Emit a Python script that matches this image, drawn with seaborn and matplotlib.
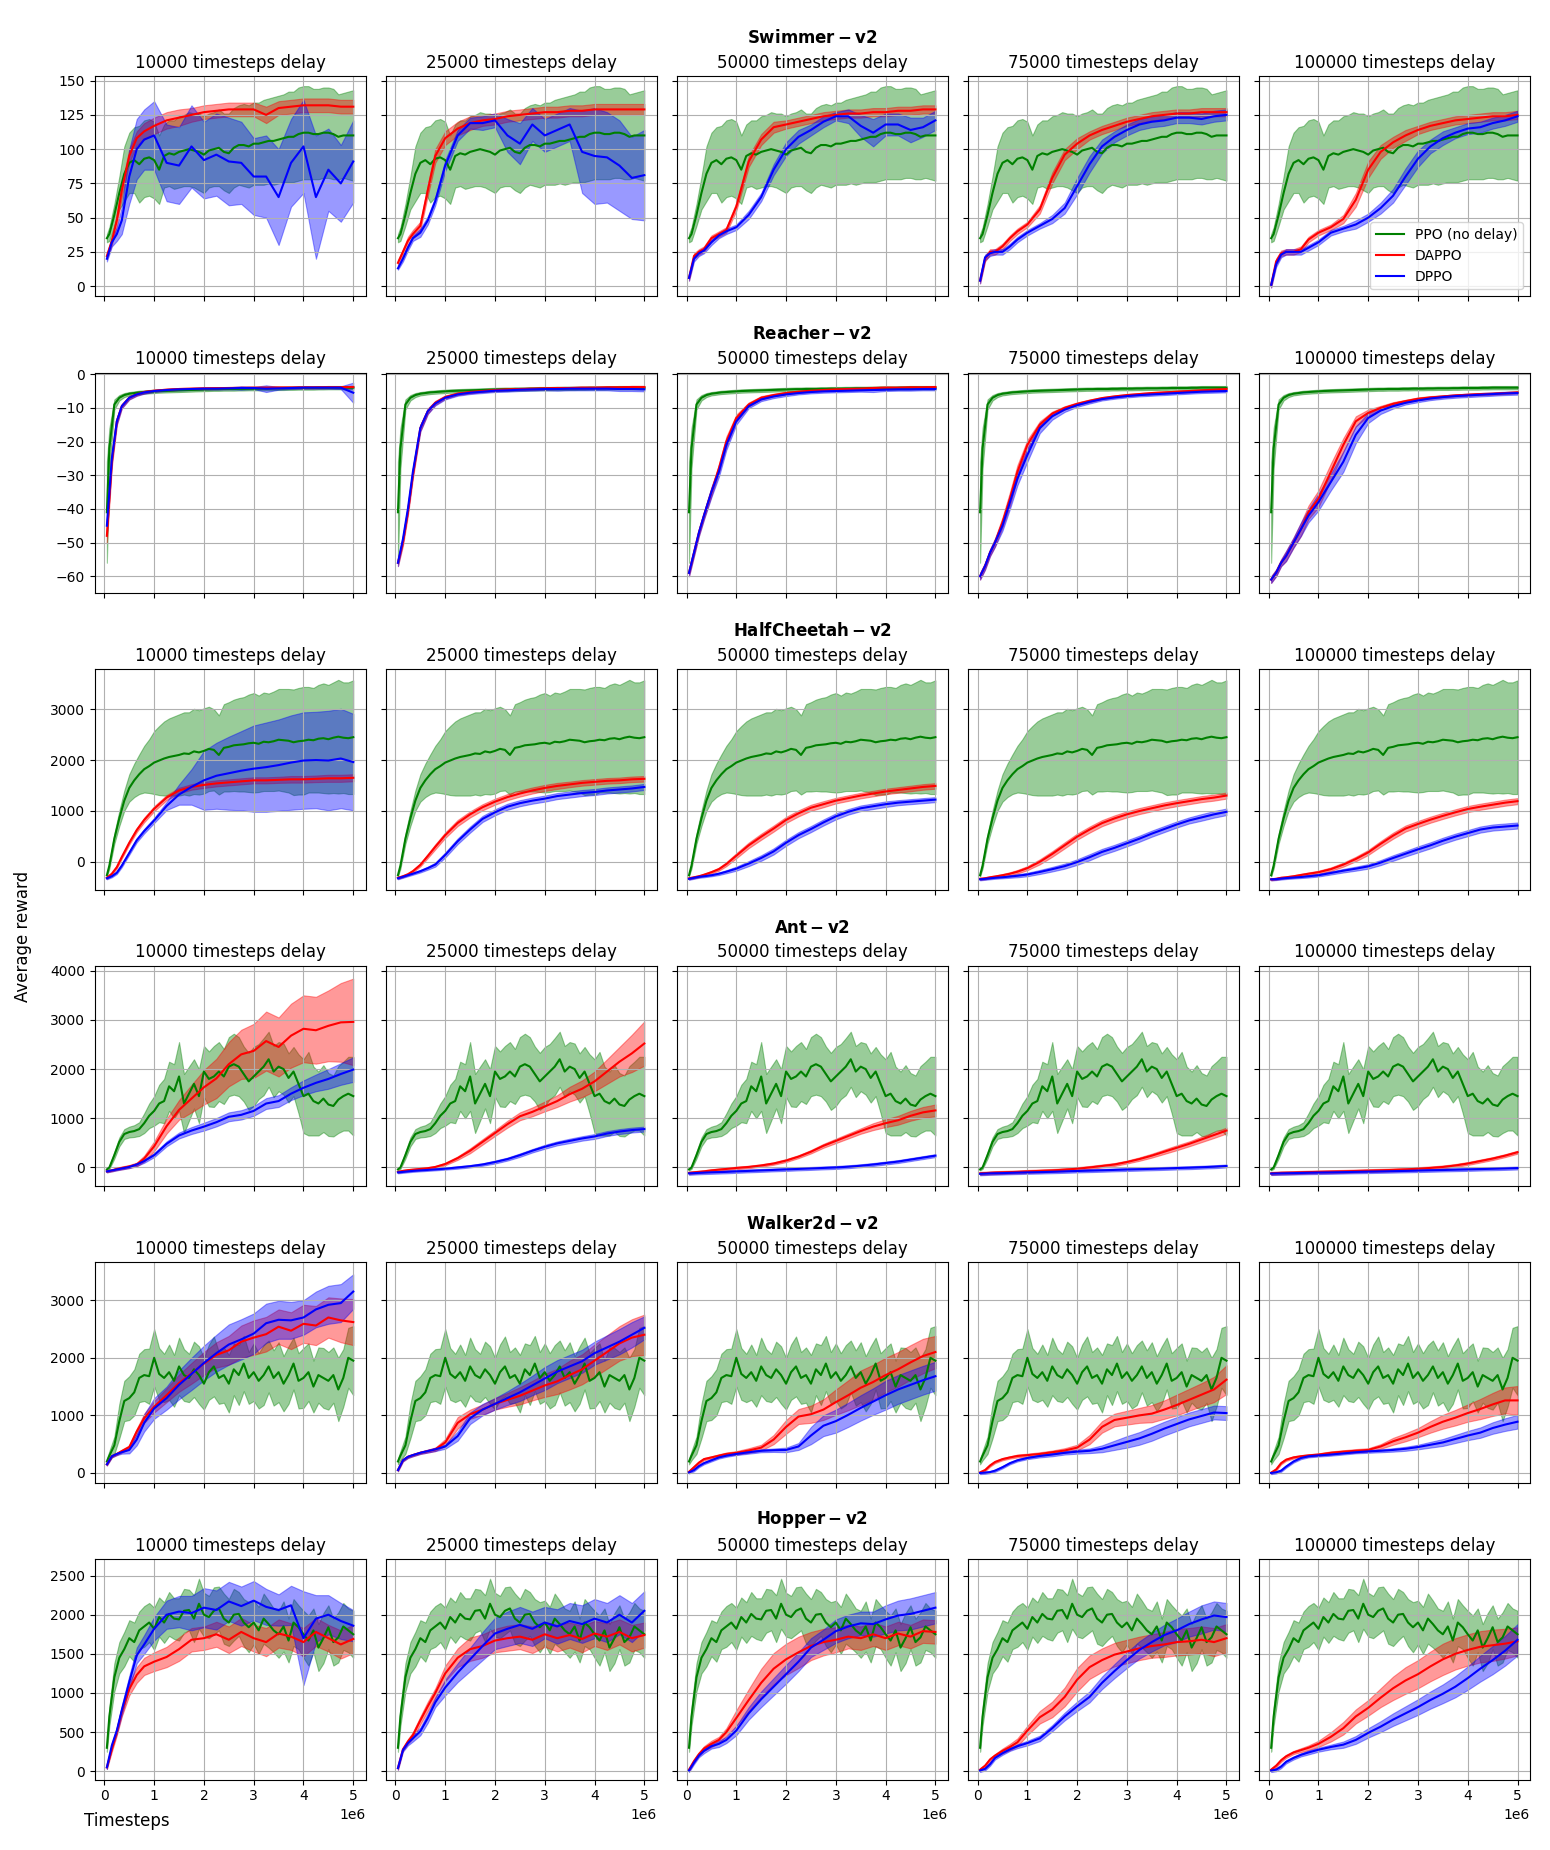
import numpy as np
import pandas as pd
import matplotlib
matplotlib.use("Agg")
import matplotlib.pyplot as plt
import seaborn as sns
from matplotlib.ticker import MultipleLocator

DELAYS = [10000, 25000, 50000, 75000, 100000]
ENVS = ["Swimmer", "Reacher", "HalfCheetah", "Ant", "Walker2d", "Hopper"]

# sample positions in millions of timesteps
STEPS_PPO = [0.05, 0.1, 0.2, 0.3, 0.4, 0.5, 0.6, 0.7, 0.8, 0.9,
             1.0, 1.1, 1.2, 1.3, 1.4, 1.5, 1.6, 1.7, 1.8, 1.9,
             2.0, 2.1, 2.2, 2.3, 2.4, 2.5, 2.6, 2.7, 2.8, 2.9,
             3.0, 3.1, 3.2, 3.3, 3.4, 3.5, 3.6, 3.7, 3.8, 3.9,
             4.0, 4.1, 4.2, 4.3, 4.4, 4.5, 4.6, 4.7, 4.8, 4.9, 5.0]
STEPS = [0.05, 0.15, 0.25, 0.35, 0.5, 0.65, 0.8, 1.0, 1.25, 1.5, 1.75, 2.0,
         2.25, 2.5, 2.75, 3.0, 3.25, 3.5, 3.75, 4.0, 4.25, 4.5, 4.75, 5.0]

# ---------------- Swimmer ----------------
SWIMMER_PPO = [35, 38, 52, 68, 82, 90, 92, 89, 93, 94,
               92, 85, 95, 97, 96, 98, 99, 100, 99, 98,
               96, 99, 100, 101, 98, 97, 101, 103, 103, 102,
               104, 104, 105, 106, 106, 107, 108, 109, 109, 111,
               112, 112, 111, 111, 112, 112, 111, 109, 110, 110, 110]
SWIMMER_PPO_SD = [3, 5, 8, 12, 20, 22, 24, 28, 28, 28,
                  28, 25, 23, 24, 25, 26, 26, 27, 27, 28,
                  28, 27, 27, 28, 28, 29, 29, 29, 30, 30,
                  30, 30, 31, 31, 32, 32, 32, 33, 33, 34,
                  34, 34, 33, 33, 33, 33, 33, 31, 31, 32, 33]
SWIMMER_DAPPO = [
    [22, 33, 48, 70, 95, 108, 113, 117, 121, 123, 125, 127, 128, 129, 129, 129, 125, 130, 131, 132, 132, 132, 131, 131],
    [17, 25, 33, 38, 44, 70, 95, 108, 115, 119, 121, 122, 124, 125, 126, 127, 127, 128, 128, 129, 129, 129, 129, 129],
    [6, 22, 25, 27, 35, 38, 41, 58, 91, 107, 116, 118, 120, 122, 124, 125, 126, 126, 127, 127, 128, 128, 129, 129],
    [4, 20, 25, 25, 29, 35, 40, 45, 56, 79, 96, 104, 110, 114, 117, 120, 122, 124, 125, 126, 126, 127, 127, 127],
    [1, 18, 24, 25, 25, 27, 34, 39, 43, 49, 63, 85, 98, 105, 110, 114, 117, 119, 121, 122, 123, 124, 124, 125],
]
SWIMMER_DAPPO_SD = [
    [2, 3, 4, 5, 5, 5, 6, 6, 6, 6, 5, 5, 5, 5, 5, 5, 6, 5, 5, 5, 5, 5, 5, 5],
    [2, 2, 3, 3, 3, 4, 5, 5, 5, 5, 4, 4, 4, 4, 4, 4, 4, 4, 4, 4, 4, 4, 4, 4],
    [2, 2, 2, 2, 2, 2, 2, 3, 4, 4, 4, 3, 3, 3, 3, 3, 3, 3, 3, 3, 3, 3, 3, 3],
    [2, 2, 2, 2, 2, 2, 2, 2, 3, 4, 4, 4, 3, 3, 3, 3, 3, 3, 3, 3, 3, 3, 3, 3],
    [2, 2, 2, 2, 2, 2, 2, 2, 2, 3, 5, 6, 5, 4, 4, 3, 3, 3, 3, 3, 3, 3, 3, 3],
]
SWIMMER_DPPO = [
    [20, 32, 38, 48, 80, 100, 107, 110, 90, 88, 102, 92, 96, 91, 90, 80, 80, 65, 90, 102, 65, 85, 75, 91],
    [13, 20, 28, 35, 39, 48, 62, 88, 110, 119, 119, 121, 110, 104, 118, 110, 114, 118, 98, 95, 94, 88, 79, 81],
    [6, 20, 24, 26, 32, 37, 40, 43, 52, 65, 85, 100, 109, 114, 120, 124, 124, 117, 112, 118, 118, 114, 116, 121],
    [4, 21, 24, 25, 25, 29, 34, 39, 44, 49, 57, 73, 89, 102, 109, 114, 118, 120, 121, 123, 123, 122, 124, 125],
    [1, 16, 23, 25, 25, 25, 28, 32, 39, 42, 45, 50, 57, 66, 80, 93, 102, 108, 112, 115, 116, 119, 121, 124],
]
SWIMMER_DPPO_SD = [
    [2, 3, 5, 10, 20, 22, 22, 25, 28, 28, 30, 28, 30, 32, 30, 28, 30, 35, 32, 34, 45, 30, 28, 30],
    [1, 2, 2, 2, 3, 3, 3, 4, 4, 4, 5, 5, 12, 15, 12, 12, 12, 12, 30, 35, 33, 33, 30, 33],
    [2, 2, 2, 2, 2, 2, 2, 2, 3, 3, 4, 5, 5, 4, 4, 3, 5, 8, 10, 8, 8, 9, 7, 7],
    [2, 2, 2, 2, 2, 2, 2, 2, 2, 3, 4, 6, 6, 5, 4, 4, 4, 4, 4, 4, 4, 4, 4, 4],
    [2, 2, 2, 2, 2, 2, 2, 2, 2, 2, 3, 3, 4, 5, 6, 6, 5, 5, 4, 4, 4, 4, 4, 4],
]

# ---------------- Reacher ----------------
REACHER_PPO = [-41, -22, -9, -7, -6.2, -5.8, -5.6, -5.4, -5.3, -5.2,
               -5.1, -5.0, -4.95, -4.9, -4.85, -4.8, -4.75, -4.7, -4.65, -4.6,
               -4.55, -4.5, -4.45, -4.45, -4.4, -4.4, -4.4, -4.35, -4.35, -4.3,
               -4.3, -4.3, -4.25, -4.25, -4.2, -4.2, -4.2, -4.15, -4.15, -4.1,
               -4.1, -4.1, -4.1, -4.05, -4.05, -4.0, -4.0, -4.0, -4.0, -4.0, -4.0]
REACHER_PPO_SD = [15, 6, 1.5, 0.8, 0.6, 0.5, 0.5, 0.5, 0.5, 0.5,
                  0.5, 0.5, 0.5, 0.5, 0.5, 0.5, 0.5, 0.5, 0.5, 0.5,
                  0.5, 0.5, 0.5, 0.5, 0.5, 0.5, 0.5, 0.5, 0.5, 0.5,
                  0.5, 0.5, 0.5, 0.5, 0.5, 0.5, 0.5, 0.5, 0.5, 0.5,
                  0.5, 0.5, 0.5, 0.5, 0.5, 0.5, 0.5, 0.5, 0.5, 0.5, 0.5]
REACHER_DAPPO = [
    [-48, -26, -14, -9.5, -7, -6, -5.3, -4.9, -4.6, -4.4, -4.3, -4.2, -4.15, -4.1, -4.05, -4.0, -4.0, -3.95, -3.95, -3.9, -3.9, -3.85, -3.85, -3.8],
    [-56, -50, -41, -30, -16, -11, -8.5, -6.8, -5.8, -5.3, -5.0, -4.7, -4.5, -4.4, -4.3, -4.2, -4.1, -4.1, -4.0, -4.0, -3.9, -3.9, -3.8, -3.8],
    [-59, -53, -47, -42, -35, -28, -20, -13, -9, -7, -6.2, -5.6, -5.2, -4.9, -4.7, -4.5, -4.4, -4.3, -4.1, -4.0, -4.0, -3.9, -3.9, -3.8],
    [-60, -57, -53, -50, -44, -37, -29, -21, -15, -11.7, -10, -8.8, -7.9, -7.1, -6.6, -6.2, -5.9, -5.6, -5.4, -5.2, -5.0, -4.8, -4.6, -4.4],
    [-61, -59, -56, -54, -50, -46, -41, -37, -29, -21, -14, -11.5, -10, -8.8, -8.0, -7.3, -6.9, -6.6, -6.3, -6.1, -5.9, -5.8, -5.6, -5.4],
]
REACHER_DAPPO_SD = [
    [2, 1.5, 1, 0.6, 0.5, 0.4, 0.4, 0.3, 0.3, 0.3, 0.3, 0.3, 0.3, 0.3, 0.3, 0.3, 0.3, 0.3, 0.3, 0.3, 0.3, 0.3, 0.3, 0.3],
    [1, 1, 1, 1, 1, 0.8, 0.6, 0.5, 0.4, 0.4, 0.3, 0.3, 0.3, 0.3, 0.3, 0.3, 0.3, 0.3, 0.3, 0.3, 0.3, 0.3, 0.3, 0.3],
    [1, 1, 1, 1, 1.2, 1.2, 1.5, 1.0, 0.6, 0.5, 0.4, 0.4, 0.3, 0.3, 0.3, 0.3, 0.3, 0.3, 0.3, 0.3, 0.3, 0.3, 0.3, 0.3],
    [1, 1, 1, 1.2, 1.5, 2, 2, 1.5, 1, 0.6, 0.5, 0.4, 0.4, 0.3, 0.3, 0.3, 0.3, 0.3, 0.3, 0.3, 0.3, 0.3, 0.3, 0.3],
    [1, 1, 1, 1.5, 1.5, 2, 2, 2.5, 2.5, 2, 1.5, 1, 0.6, 0.5, 0.4, 0.4, 0.4, 0.3, 0.3, 0.3, 0.3, 0.3, 0.3, 0.3],
]
REACHER_DPPO = [
    [-45, -25, -14, -9.5, -7, -6, -5.4, -5.0, -4.7, -4.5, -4.4, -4.3, -4.3, -4.2, -4.1, -4.1, -4.3, -4.2, -4.1, -4.0, -4.0, -4.0, -4.0, -5.5],
    [-56, -49, -40, -29, -16, -11, -8.7, -7.0, -6.0, -5.5, -5.2, -4.9, -4.8, -4.6, -4.5, -4.4, -4.4, -4.3, -4.3, -4.3, -4.3, -4.4, -4.4, -4.5],
    [-59, -53, -47, -42, -35, -29, -21, -14, -9.5, -7.5, -6.6, -6.0, -5.6, -5.3, -5.1, -5.0, -4.9, -4.8, -4.7, -4.6, -4.5, -4.5, -4.4, -4.4],
    [-60, -57, -53, -50, -45, -38, -31, -24, -16, -12.5, -10.5, -9.2, -8.2, -7.4, -6.9, -6.5, -6.2, -6.0, -5.8, -5.6, -5.4, -5.2, -5.1, -5.0],
    [-61, -59, -56, -54, -50, -46, -42, -38, -32, -26, -18, -13, -10.8, -9.5, -8.5, -7.8, -7.2, -6.8, -6.5, -6.3, -6.1, -5.9, -5.7, -5.6],
]
REACHER_DPPO_SD = [
    [2, 1.5, 1, 0.6, 0.5, 0.4, 0.4, 0.3, 0.3, 0.3, 0.3, 0.3, 0.3, 0.3, 0.5, 0.3, 1.0, 0.4, 0.3, 0.3, 0.3, 0.3, 0.4, 3.0],
    [1, 1, 1, 1, 1, 0.8, 0.6, 0.5, 0.4, 0.4, 0.4, 0.4, 0.4, 0.4, 0.4, 0.4, 0.5, 0.5, 0.5, 0.5, 0.5, 0.6, 0.6, 0.6],
    [1, 1, 1, 1.2, 1.5, 1.5, 1.5, 1.0, 0.6, 0.5, 0.5, 0.5, 0.4, 0.4, 0.4, 0.4, 0.4, 0.4, 0.6, 0.4, 0.4, 0.4, 0.4, 0.4],
    [1, 1, 1, 1.2, 1.5, 2, 2, 2, 1.5, 1, 0.7, 0.5, 0.5, 0.4, 0.4, 0.4, 0.4, 0.4, 0.4, 0.4, 0.4, 0.4, 0.4, 0.4],
    [1, 1, 1, 1.5, 1.5, 2, 2, 2.5, 2.5, 3, 2.5, 1.5, 1, 0.7, 0.5, 0.5, 0.5, 0.5, 0.5, 0.5, 0.5, 0.5, 0.5, 0.5],
]

# ---------------- HalfCheetah ----------------
CHEETAH_PPO = [-270, -80, 450, 850, 1200, 1450, 1600, 1720, 1820, 1880,
               1950, 1990, 2030, 2060, 2080, 2100, 2130, 2120, 2170, 2150,
               2180, 2220, 2200, 2100, 2240, 2260, 2290, 2300, 2310, 2330,
               2340, 2320, 2360, 2350, 2370, 2400, 2390, 2380, 2350, 2370,
               2380, 2400, 2390, 2420, 2430, 2410, 2440, 2460, 2440, 2430, 2450]
CHEETAH_PPO_SD = [20, 60, 100, 150, 200, 270, 330, 390, 460, 530,
                  620, 680, 730, 760, 780, 800, 810, 820, 840, 830,
                  840, 830, 800, 780, 860, 880, 900, 920, 930, 960,
                  980, 950, 970, 960, 980, 1000, 1010, 1020, 1040, 1050,
                  1060, 1040, 1030, 1060, 1080, 1070, 1090, 1120, 1090, 1100, 1120]
CHEETAH_DAPPO = [
    [-320, -240, -110, 90, 370, 620, 820, 1040, 1260, 1400, 1470, 1510, 1540, 1560, 1580, 1600, 1600, 1610, 1620, 1620, 1630, 1640, 1640, 1650],
    [-320, -290, -250, -190, -65, 110, 290, 520, 760, 930, 1070, 1180, 1270, 1340, 1400, 1450, 1490, 1520, 1550, 1570, 1590, 1600, 1620, 1630],
    [-330, -310, -290, -260, -210, -150, -50, 115, 320, 490, 650, 820, 950, 1060, 1130, 1200, 1250, 1300, 1340, 1380, 1410, 1440, 1470, 1490],
    [-340, -330, -310, -295, -270, -240, -200, -130, -5, 150, 320, 490, 630, 757, 850, 930, 995, 1050, 1105, 1150, 1190, 1230, 1260, 1300],
    [-350, -340, -320, -310, -290, -265, -240, -210, -150, -60, 50, 180, 350, 510, 650, 740, 825, 900, 970, 1035, 1080, 1120, 1160, 1190],
]
CHEETAH_DAPPO_SD = [
    [20, 20, 25, 30, 35, 40, 45, 50, 50, 55, 55, 60, 60, 60, 60, 60, 60, 60, 65, 65, 65, 70, 70, 70],
    [20, 20, 20, 25, 30, 40, 50, 55, 60, 60, 60, 60, 60, 60, 60, 60, 60, 55, 55, 55, 55, 55, 55, 55],
    [20, 20, 20, 20, 25, 30, 40, 50, 55, 60, 60, 60, 60, 60, 60, 55, 55, 55, 55, 55, 55, 55, 55, 55],
    [20, 20, 20, 20, 25, 30, 35, 40, 50, 55, 60, 60, 60, 60, 60, 60, 60, 60, 60, 60, 60, 60, 60, 60],
    [20, 20, 20, 20, 20, 25, 25, 30, 35, 40, 45, 50, 55, 60, 60, 60, 60, 60, 60, 60, 60, 60, 60, 60],
]
CHEETAH_DPPO = [
    [-330, -290, -220, -80, 170, 420, 600, 810, 1095, 1320, 1470, 1600, 1690, 1740, 1790, 1830, 1860, 1900, 1950, 1990, 2000, 1990, 2030, 1960],
    [-330, -300, -270, -240, -190, -130, -60, 130, 400, 630, 840, 970, 1080, 1150, 1200, 1240, 1290, 1320, 1350, 1370, 1400, 1420, 1440, 1470],
    [-340, -320, -300, -290, -270, -240, -200, -140, -40, 70, 200, 370, 520, 640, 770, 890, 980, 1050, 1090, 1130, 1160, 1180, 1200, 1220],
    [-350, -340, -330, -320, -310, -295, -280, -255, -205, -150, -90, -10, 85, 190, 270, 360, 450, 550, 640, 730, 810, 870, 930, 980],
    [-350, -345, -335, -325, -315, -305, -290, -270, -225, -180, -140, -95, -20, 70, 155, 240, 320, 410, 490, 560, 630, 670, 690, 710],
]
CHEETAH_DPPO_SD = [
    [20, 20, 25, 30, 35, 40, 45, 50, 80, 200, 350, 580, 650, 720, 780, 850, 880, 900, 930, 950, 950, 980, 980, 950],
    [20, 20, 20, 20, 25, 30, 40, 50, 55, 60, 60, 60, 60, 60, 60, 60, 60, 60, 60, 60, 60, 60, 60, 60],
    [20, 20, 20, 20, 20, 25, 30, 40, 50, 55, 60, 60, 60, 60, 60, 60, 55, 55, 55, 55, 50, 50, 50, 50],
    [20, 20, 20, 20, 20, 25, 30, 35, 40, 45, 50, 55, 60, 60, 60, 60, 60, 60, 60, 60, 60, 65, 65, 65],
    [20, 20, 20, 20, 20, 20, 25, 25, 30, 35, 40, 45, 50, 55, 55, 60, 60, 60, 60, 60, 60, 60, 60, 60],
]

# ---------------- Ant ----------------
ANT_PPO = [-40, 0, 250, 520, 680, 720, 740, 780, 900, 1050,
           1150, 1300, 1350, 1650, 1550, 1850, 1300, 1500, 1700, 1450,
           1950, 1800, 1850, 1950, 1850, 2050, 2100, 2050, 1900, 1750,
           1850, 1950, 2050, 2200, 1950, 2050, 2000, 1820, 1950, 1700,
           1450, 1500, 1350, 1300, 1400, 1280, 1250, 1380, 1450, 1500, 1450]
ANT_PPO_SD = [20, 30, 70, 90, 100, 110, 120, 140, 200, 250,
              300, 380, 450, 500, 550, 700, 600, 550, 500, 550,
              520, 560, 620, 600, 560, 600, 620, 600, 560, 580,
              600, 560, 580, 560, 520, 500, 520, 500, 500, 600,
              750, 850, 700, 650, 680, 640, 620, 680, 700, 750, 800]
ANT_DAPPO = [
    [-80, -60, -30, -10, 20, 60, 180, 430, 840, 1170, 1400, 1630, 1810, 2100, 2300, 2370, 2570, 2450, 2680, 2820, 2790, 2880, 2950, 2960],
    [-90, -70, -55, -45, -30, -15, 10, 70, 190, 340, 520, 700, 880, 1040, 1130, 1240, 1350, 1490, 1600, 1750, 1950, 2150, 2320, 2520],
    [-110, -100, -90, -80, -60, -45, -30, -10, 10, 40, 80, 140, 220, 320, 440, 540, 640, 740, 830, 900, 960, 1050, 1120, 1160],
    [-120, -115, -110, -105, -100, -95, -90, -80, -70, -60, -45, -25, 0, 30, 60, 110, 170, 240, 320, 400, 480, 570, 660, 750],
    [-120, -115, -110, -108, -105, -100, -95, -90, -85, -80, -72, -65, -58, -50, -40, -25, -10, 10, 40, 80, 130, 180, 240, 310],
]
ANT_DAPPO_SD = [
    [20, 20, 25, 30, 30, 40, 60, 100, 150, 200, 280, 350, 400, 450, 500, 550, 600, 600, 650, 680, 680, 720, 800, 880],
    [20, 20, 20, 20, 20, 20, 20, 25, 35, 50, 55, 60, 70, 80, 90, 100, 120, 150, 170, 200, 250, 300, 380, 450],
    [25, 25, 25, 25, 25, 25, 25, 25, 25, 25, 25, 30, 30, 35, 40, 45, 50, 55, 70, 80, 90, 100, 110, 120],
    [30, 30, 30, 30, 30, 30, 30, 30, 30, 30, 30, 30, 30, 30, 30, 30, 35, 40, 45, 50, 50, 55, 60, 60],
    [30, 30, 30, 30, 30, 30, 30, 30, 30, 30, 30, 30, 30, 30, 30, 30, 30, 30, 30, 30, 30, 30, 30, 30],
]
ANT_DPPO = [
    [-80, -60, -40, -20, 10, 60, 130, 250, 480, 650, 750, 830, 920, 1030, 1070, 1150, 1300, 1350, 1500, 1620, 1720, 1800, 1900, 1990],
    [-100, -90, -80, -70, -60, -50, -40, -25, 0, 25, 60, 110, 170, 250, 340, 420, 490, 540, 590, 630, 690, 730, 760, 780],
    [-120, -115, -110, -105, -100, -95, -90, -80, -70, -60, -50, -40, -30, -20, -10, 0, 15, 35, 60, 90, 120, 160, 200, 240],
    [-130, -125, -120, -118, -115, -110, -105, -100, -95, -88, -80, -72, -65, -58, -50, -42, -35, -28, -20, -12, -5, 5, 15, 30],
    [-125, -122, -120, -118, -115, -112, -108, -104, -100, -95, -90, -85, -80, -75, -70, -64, -58, -52, -46, -40, -33, -27, -20, -12],
]
ANT_DPPO_SD = [
    [20, 20, 20, 20, 25, 30, 35, 40, 50, 60, 70, 80, 85, 90, 95, 100, 110, 120, 130, 150, 170, 200, 220, 250],
    [20, 20, 20, 20, 20, 20, 20, 20, 25, 25, 25, 30, 30, 35, 35, 40, 40, 45, 45, 50, 50, 50, 50, 50],
    [30, 30, 30, 30, 30, 30, 30, 30, 30, 30, 30, 30, 30, 30, 30, 30, 30, 30, 30, 30, 30, 30, 30, 30],
    [30, 30, 30, 30, 30, 30, 30, 30, 30, 30, 30, 30, 30, 30, 30, 30, 30, 30, 30, 30, 30, 30, 30, 30],
    [30, 30, 30, 30, 30, 30, 30, 30, 30, 30, 30, 30, 30, 30, 30, 30, 30, 30, 30, 30, 30, 30, 30, 30],
]

# ---------------- Walker2d ----------------
WALKER_PPO = [200, 300, 480, 900, 1250, 1300, 1400, 1650, 1700, 1680,
              2000, 1720, 1650, 1750, 1600, 1850, 1700, 1650, 1800, 1700,
              1550, 1750, 1850, 1650, 1700, 1550, 1800, 1700, 1900, 1650,
              1750, 1600, 1700, 1850, 1650, 1750, 1550, 1700, 1900, 1600,
              1650, 1750, 1500, 1700, 1650, 1600, 1700, 1450, 1650, 2000, 1950]
WALKER_PPO_SD = [50, 80, 150, 300, 350, 380, 400, 420, 450, 480,
                 500, 450, 420, 480, 450, 500, 450, 420, 480, 500,
                 450, 480, 520, 450, 480, 500, 450, 520, 480, 450,
                 500, 480, 520, 450, 480, 520, 480, 500, 450, 480,
                 520, 500, 450, 480, 520, 500, 480, 550, 500, 520, 600]
WALKER_DAPPO = [
    [150, 290, 330, 380, 450, 720, 950, 1150, 1350, 1560, 1730, 1900, 2050, 2130, 2280, 2350, 2410, 2540, 2470, 2590, 2560, 2700, 2650, 2620],
    [50, 220, 280, 310, 350, 380, 410, 530, 870, 1020, 1100, 1200, 1270, 1340, 1430, 1520, 1590, 1700, 1800, 1950, 2100, 2250, 2350, 2400],
    [20, 100, 180, 240, 270, 300, 330, 350, 390, 440, 580, 800, 980, 1020, 1100, 1230, 1350, 1480, 1580, 1700, 1800, 1920, 2030, 2100],
    [10, 50, 130, 190, 240, 270, 295, 310, 330, 360, 390, 440, 580, 800, 920, 960, 1000, 1030, 1100, 1180, 1270, 1360, 1450, 1620],
    [5, 60, 170, 230, 270, 290, 305, 320, 350, 370, 385, 400, 460, 550, 620, 700, 800, 890, 960, 1040, 1110, 1190, 1260, 1260],
]
WALKER_DAPPO_SD = [
    [20, 20, 20, 25, 30, 50, 80, 100, 120, 150, 180, 200, 220, 250, 280, 300, 300, 300, 320, 330, 340, 350, 380, 400],
    [20, 20, 20, 20, 20, 25, 30, 60, 100, 80, 90, 100, 120, 150, 170, 200, 220, 250, 260, 280, 290, 300, 320, 350],
    [20, 20, 20, 20, 20, 25, 25, 30, 40, 50, 80, 120, 130, 150, 180, 220, 260, 300, 300, 300, 300, 300, 300, 280],
    [20, 20, 20, 20, 20, 20, 25, 25, 30, 30, 40, 50, 80, 100, 110, 120, 130, 150, 160, 180, 190, 200, 220, 250],
    [20, 20, 20, 20, 20, 20, 20, 20, 25, 25, 30, 30, 40, 60, 70, 80, 100, 120, 135, 150, 175, 200, 225, 250],
]
WALKER_DPPO = [
    [150, 290, 330, 360, 400, 580, 870, 1120, 1300, 1530, 1720, 1910, 2080, 2230, 2320, 2420, 2600, 2660, 2650, 2700, 2840, 2920, 2950, 3150],
    [50, 220, 280, 310, 350, 380, 410, 460, 640, 950, 1100, 1200, 1300, 1400, 1520, 1640, 1760, 1850, 1940, 2080, 2180, 2280, 2400, 2520],
    [10, 50, 120, 170, 220, 270, 300, 330, 360, 385, 395, 400, 460, 650, 820, 900, 1010, 1130, 1240, 1350, 1450, 1530, 1610, 1680],
    [0, 5, 15, 40, 100, 170, 220, 260, 295, 320, 350, 370, 385, 420, 480, 540, 600, 680, 770, 850, 930, 990, 1050, 1040],
    [0, 10, 40, 110, 200, 260, 290, 305, 320, 340, 360, 375, 385, 400, 420, 450, 490, 530, 590, 650, 700, 780, 840, 890],
]
WALKER_DPPO_SD = [
    [20, 20, 20, 25, 60, 100, 150, 180, 200, 250, 280, 300, 320, 350, 350, 350, 340, 330, 320, 300, 310, 330, 330, 300],
    [20, 20, 20, 20, 20, 25, 30, 40, 80, 100, 100, 100, 120, 150, 170, 200, 200, 200, 200, 200, 210, 220, 220, 200],
    [20, 20, 20, 20, 20, 20, 20, 20, 25, 25, 30, 40, 60, 150, 180, 200, 210, 220, 230, 250, 250, 250, 250, 250],
    [20, 20, 20, 20, 20, 20, 20, 20, 25, 30, 30, 35, 40, 60, 80, 100, 110, 120, 120, 120, 120, 120, 120, 120],
    [20, 20, 20, 20, 20, 20, 20, 20, 20, 20, 20, 25, 25, 30, 35, 40, 50, 60, 70, 80, 90, 100, 110, 120],
]

# ---------------- Hopper ----------------
HOPPER_PPO = [300, 700, 1200, 1450, 1560, 1700, 1650, 1800, 1850, 1900,
              1820, 1970, 1900, 2010, 1950, 1940, 2050, 2060, 1950, 2140,
              2000, 1970, 2050, 2080, 1950, 1900, 2000, 2010, 1900, 1840,
              1900, 1800, 1950, 1880, 1800, 1750, 1850, 1670, 1900, 1840,
              1750, 1670, 1800, 1580, 1700, 1840, 1650, 1710, 1850, 1800, 1750]
HOPPER_PPO_SD = [50, 120, 180, 200, 220, 230, 250, 240, 260, 250,
                 270, 250, 260, 280, 260, 270, 280, 260, 300, 320,
                 280, 270, 300, 280, 320, 300, 330, 280, 300, 320,
                 280, 300, 320, 300, 280, 300, 320, 280, 300, 280,
                 300, 320, 280, 300, 320, 280, 300, 320, 300, 280, 300]
HOPPER_DAPPO = [
    [50, 280, 500, 760, 1050, 1230, 1340, 1400, 1460, 1560, 1680, 1700, 1750, 1680, 1780, 1700, 1650, 1760, 1720, 1650, 1780, 1700, 1620, 1690],
    [40, 280, 380, 460, 650, 830, 1000, 1250, 1450, 1560, 1600, 1670, 1700, 1720, 1680, 1750, 1700, 1740, 1690, 1760, 1720, 1780, 1700, 1740],
    [20, 130, 220, 290, 350, 400, 500, 680, 910, 1130, 1310, 1430, 1520, 1600, 1650, 1680, 1720, 1700, 1750, 1700, 1760, 1720, 1790, 1780],
    [20, 70, 150, 200, 260, 310, 370, 520, 690, 790, 950, 1170, 1330, 1420, 1490, 1530, 1570, 1600, 1620, 1650, 1660, 1680, 1650, 1700],
    [20, 70, 140, 190, 240, 270, 300, 350, 440, 550, 700, 810, 940, 1060, 1160, 1240, 1340, 1430, 1500, 1550, 1590, 1610, 1630, 1660],
]
HOPPER_DAPPO_SD = [
    [20, 30, 40, 60, 80, 100, 110, 120, 130, 150, 150, 150, 160, 170, 180, 170, 180, 180, 170, 180, 180, 170, 180, 180],
    [20, 20, 30, 40, 50, 60, 60, 100, 120, 150, 150, 150, 160, 160, 170, 160, 170, 160, 170, 160, 170, 160, 170, 160],
    [20, 20, 20, 30, 40, 40, 50, 100, 140, 180, 200, 200, 200, 180, 170, 160, 150, 150, 150, 150, 150, 150, 150, 150],
    [20, 20, 20, 20, 30, 40, 50, 60, 80, 100, 120, 150, 150, 150, 150, 150, 150, 150, 160, 170, 170, 170, 180, 180],
    [20, 20, 20, 20, 20, 25, 30, 40, 60, 80, 90, 100, 120, 150, 170, 180, 190, 200, 200, 200, 200, 200, 190, 180],
]
HOPPER_DPPO = [
    [50, 330, 520, 780, 1140, 1480, 1620, 1820, 2000, 2040, 2020, 2090, 2060, 2170, 2110, 2180, 2100, 2060, 2120, 1700, 1950, 2000, 1920, 1860],
    [40, 270, 360, 420, 510, 680, 880, 1070, 1260, 1430, 1600, 1760, 1820, 1870, 1820, 1900, 1850, 1920, 1880, 1950, 1900, 2000, 1900, 2050],
    [10, 110, 200, 260, 320, 350, 400, 520, 740, 920, 1080, 1240, 1400, 1580, 1680, 1790, 1850, 1890, 1880, 1940, 1990, 2010, 2050, 2090],
    [10, 30, 90, 170, 230, 280, 320, 360, 420, 550, 700, 830, 950, 1130, 1280, 1420, 1550, 1650, 1740, 1800, 1880, 1940, 1990, 1970],
    [10, 20, 60, 120, 170, 210, 240, 275, 310, 340, 400, 490, 570, 660, 740, 820, 910, 990, 1080, 1190, 1310, 1420, 1540, 1680],
]
HOPPER_DPPO_SD = [
    [20, 30, 40, 60, 80, 100, 120, 150, 180, 200, 220, 250, 250, 250, 250, 250, 230, 200, 250, 600, 300, 250, 230, 200],
    [20, 20, 30, 40, 50, 60, 60, 100, 120, 150, 180, 200, 220, 230, 220, 200, 220, 230, 240, 250, 250, 250, 250, 250],
    [20, 20, 20, 30, 30, 40, 40, 60, 80, 100, 110, 120, 120, 120, 130, 150, 150, 150, 160, 180, 190, 200, 200, 200],
    [20, 20, 20, 20, 20, 20, 25, 30, 35, 40, 50, 60, 70, 80, 90, 100, 110, 120, 130, 150, 160, 180, 180, 180],
    [20, 20, 20, 20, 20, 20, 25, 25, 30, 40, 50, 60, 70, 80, 90, 100, 110, 120, 135, 150, 165, 180, 190, 200],
]

RESULTS = {
    "Swimmer": (SWIMMER_PPO, SWIMMER_PPO_SD, SWIMMER_DAPPO, SWIMMER_DAPPO_SD, SWIMMER_DPPO, SWIMMER_DPPO_SD),
    "Reacher": (REACHER_PPO, REACHER_PPO_SD, REACHER_DAPPO, REACHER_DAPPO_SD, REACHER_DPPO, REACHER_DPPO_SD),
    "HalfCheetah": (CHEETAH_PPO, CHEETAH_PPO_SD, CHEETAH_DAPPO, CHEETAH_DAPPO_SD, CHEETAH_DPPO, CHEETAH_DPPO_SD),
    "Ant": (ANT_PPO, ANT_PPO_SD, ANT_DAPPO, ANT_DAPPO_SD, ANT_DPPO, ANT_DPPO_SD),
    "Walker2d": (WALKER_PPO, WALKER_PPO_SD, WALKER_DAPPO, WALKER_DAPPO_SD, WALKER_DPPO, WALKER_DPPO_SD),
    "Hopper": (HOPPER_PPO, HOPPER_PPO_SD, HOPPER_DAPPO, HOPPER_DAPPO_SD, HOPPER_DPPO, HOPPER_DPPO_SD),
}

# axis limits / tick step per environment row
YLIMS = {"Swimmer": (-7.5, 153.5), "Reacher": (-65, 0.5), "HalfCheetah": (-555, 3790),
         "Ant": (-385, 4100), "Walker2d": (-175, 3655), "Hopper": (-108, 2710)}
YSTEP = {"Swimmer": 25, "Reacher": 10, "HalfCheetah": 1000,
         "Ant": 1000, "Walker2d": 1000, "Hopper": 500}


def draw_curve(ax, steps, mean, sd, color, label):
    """mean line with a +/- band"""
    x = np.asarray(steps) * 1e6
    mean = np.asarray(mean, dtype=float)
    sd = np.asarray(sd, dtype=float)
    ax.fill_between(x, mean - sd, mean + sd, color=color, alpha=0.4, linewidth=0.8)
    sns.lineplot(x=x, y=mean, color=color, label=label, ax=ax, linewidth=1.5, legend=False)


fig, axes = plt.subplots(6, 5, figsize=(15.5, 18.5), dpi=100, sharex=True, sharey="row")
fig.subplots_adjust(left=0.061, right=0.987, top=0.959, bottom=0.038, wspace=0.074, hspace=0.345)

for r, env in enumerate(ENVS):
    ppo, ppo_sd, dappo, dappo_sd, dppo, dppo_sd = RESULTS[env]
    for c, delay in enumerate(DELAYS):
        ax = axes[r, c]
        draw_curve(ax, STEPS_PPO, ppo, ppo_sd, "green", "PPO (no delay)")
        draw_curve(ax, STEPS, dappo[c], dappo_sd[c], "red", "DAPPO")
        draw_curve(ax, STEPS, dppo[c], dppo_sd[c], "blue", "DPPO")
        ax.set_title(f"{delay} timesteps delay", fontsize=12)
        ax.set_xlabel("")
        ax.set_ylabel("")
        ax.grid(True)
    axes[r, 0].set_ylim(YLIMS[env])
    axes[r, 0].yaxis.set_major_locator(MultipleLocator(YSTEP[env]))
    axes[r, 2].annotate(rf"$\bf{{{env}-v2}}$", xy=(0.5, 1.0), xycoords="axes fraction",
                        xytext=(0, 21), textcoords="offset points",
                        ha="center", va="bottom", fontsize=12)

axes[0, 4].legend(loc="lower right", fontsize=10)

fig.text(0.015, 0.494, "Average reward", rotation=90, va="center", ha="center", fontsize=12)
fig.text(0.082, 0.0157, "Timesteps", va="center", ha="center", fontsize=12)

fig.savefig("out.png", dpi=100)
